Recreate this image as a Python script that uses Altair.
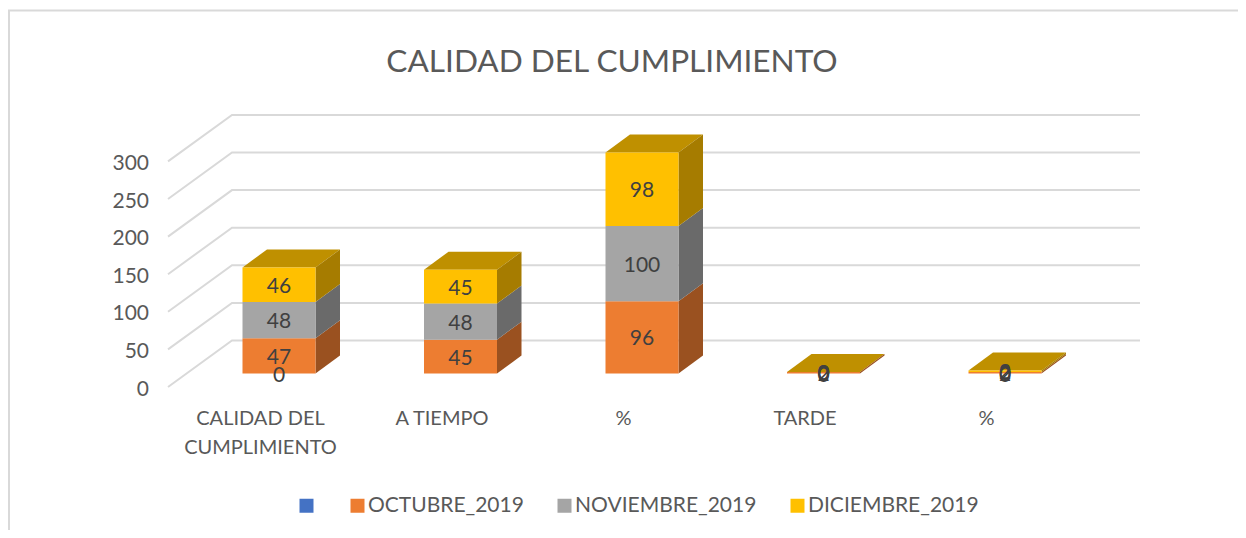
import altair as alt
import pandas as pd

# ---- values ----
categories = ["CALIDAD DEL\nCUMPLIMIENTO", "A TIEMPO", "%", "TARDE", "%"]
series_names = [" ", "OCTUBRE_2019", "NOVIEMBRE_2019", "DICIEMBRE_2019"]
blank = [0, None, None, 0, 0]
octubre = [47, 45, 96, 2, 2]
noviembre = [48, 48, 100, 0, 0]
diciembre = [46, 45, 98, 0, 2]
y_ticks = [0, 50, 100, 150, 200, 250, 300]
front_colors = ["#4472C4", "#ED7D31", "#A5A5A5", "#FFC000"]
side_colors = ["#2D4C84", "#9A5120", "#6A6A6A", "#A67C00"]
top_colors = ["#335593", "#B25E25", "#7C7C7C", "#BF9000"]
title_text = "CALIDAD DEL CUMPLIMIENTO"

# ---- scale set-up (page pixels -> data units) ----
W, H = 1230, 522
CAT_PX, CAT0_PX = 181.5, 279.0
VAL_PX, ZERO_PX = 0.752, 373.5
x_dom = [(8 - CAT0_PX) / CAT_PX, (8 + W - CAT0_PX) / CAT_PX]
y_dom = [(ZERO_PX - (8 + H)) / VAL_PX, (ZERO_PX - 8) / VAL_PX]
xs = alt.Scale(domain=x_dom, nice=False, zero=False)
ys = alt.Scale(domain=y_dom, nice=False, zero=False)
X = alt.X("x:Q", scale=xs, axis=None)
Y = alt.Y("y:Q", scale=ys, axis=None)

BAR_W = 73 / CAT_PX
DX = 24.5 / CAT_PX
DY = 18 / VAL_PX

# ---- build tables ----
fronts, sides, tops, labels = [], [], [], []
for i in range(len(categories)):
    base = 0
    for s, vals in enumerate([blank, octubre, noviembre, diciembre]):
        v = vals[i]
        if v is None:
            continue
        a, b = i - BAR_W / 2, i + BAR_W / 2
        t = base + v
        fronts.append(dict(x=a, x2=b, y=base, y2=t, series=series_names[s], order=s))
        labels.append(dict(x=i, y=base + v / 2, text=str(v)))
        pid = f"{i}-{s}"
        sides += [
            dict(x=b, y=t, y2=base, poly=pid, fill=side_colors[s], order=s),
            dict(x=b + DX, y=t + DY, y2=base + DY, poly=pid, fill=side_colors[s], order=s),
        ]
        base = t
    # top face of the stack
    s_top = 3
    pid = f"t{i}"
    for px, py, py2 in [(a, base, base), (a + DX, base + DY, base),
                        (b, base + DY, base), (b + DX, base + DY, base + DY)]:
        tops.append(dict(x=px, y=py, y2=py2, poly=pid, fill=top_colors[s_top]))

GRID_FRONT = (ZERO_PX - 387) / VAL_PX
GRID_BACK = (ZERO_PX - 340.5) / VAL_PX
GX0, GX1, GX2 = (168 - CAT0_PX) / CAT_PX, (232 - CAT0_PX) / CAT_PX, (1140 - CAT0_PX) / CAT_PX
grid, ticklabels = [], []
for g in y_ticks:
    grid += [dict(x=GX0, y=g + GRID_FRONT, lvl=g), dict(x=GX1, y=g + GRID_BACK, lvl=g),
             dict(x=GX2, y=g + GRID_BACK, lvl=g)]
    ticklabels.append(dict(x=(149 - CAT0_PX) / CAT_PX, y=g + GRID_FRONT + 0.5, text=str(g)))
catlabels = [dict(x=i - 18.5 / CAT_PX, y=(ZERO_PX - 418) / VAL_PX, text=c.split("\n"))
             for i, c in enumerate(categories)]

frame = [dict(x=x_dom[0] + 1 / CAT_PX, y=y_dom[0], o=0),
         dict(x=x_dom[0] + 1 / CAT_PX, y=(ZERO_PX - 10.5) / VAL_PX, o=1),
         dict(x=x_dom[1], y=(ZERO_PX - 10.5) / VAL_PX, o=2)]

FONT = "Lato"
TXT = "#404040"
TICK = "#595959"

frame_l = alt.Chart(pd.DataFrame(frame)).mark_line(color="#d9d9d9", strokeWidth=2).encode(
    x=X, y=Y, order="o:Q")
grid_l = alt.Chart(pd.DataFrame(grid)).mark_line(color="#d9d9d9", strokeWidth=2).encode(
    x=X, y=Y, detail="lvl:N")
side_l = alt.Chart(pd.DataFrame(sides)).mark_area(interpolate="linear", opacity=1).encode(
    x=X, y=Y, y2="y2:Q", detail="poly:N", color=alt.Color("fill:N", scale=None))
top_l = alt.Chart(pd.DataFrame(tops)).mark_area(interpolate="linear", opacity=1).encode(
    x=X, y=Y, y2="y2:Q", detail="poly:N", color=alt.Color("fill:N", scale=None))
front_l = alt.Chart(pd.DataFrame(fronts)).mark_rect().encode(
    x=X, x2="x2:Q", y=Y, y2="y2:Q",
    color=alt.Color(
        "series:N",
        scale=alt.Scale(domain=series_names, range=front_colors),
        sort=series_names,
        legend=alt.Legend(
            title=None, orient="none", direction="horizontal", columns=4,
            legendX=288, legendY=487, symbolType="square", symbolSize=196,
            symbolStrokeWidth=0, labelFont=FONT, labelFontSize=21, labelColor=TICK,
            labelLimit=300, labelOffset=0, columnPadding=30, padding=0,
        ),
    ),
)
label_l = alt.Chart(pd.DataFrame(labels)).mark_text(font=FONT, fontSize=21, color=TXT, dy=2).encode(
    x=X, y=Y, text="text:N")
tick_l = alt.Chart(pd.DataFrame(ticklabels)).mark_text(font=FONT, fontSize=21, color=TICK, align="right", dy=3).encode(
    x=X, y=Y, text="text:N")
cat_l = alt.Chart(pd.DataFrame(catlabels)).mark_text(
    font=FONT, fontSize=20, color=TICK, lineHeight=29, dy=1).encode(x=X, y=Y, text="text")

chart = alt.layer(frame_l, grid_l, top_l, side_l, front_l, label_l, tick_l, cat_l).properties(
    width=W, height=H,
    padding=0,
    autosize=alt.AutoSizeParams(type="none"),
    title=alt.TitleParams(
        title_text, font=FONT, fontSize=31.6, fontWeight="normal", color=TICK,
        anchor="middle", dx=-11, dy=72, offset=0,
    ),
    background="white",
).configure_view(stroke=None)

chart.save("out.html", embed_options={"renderer": "svg", "actions": False})
